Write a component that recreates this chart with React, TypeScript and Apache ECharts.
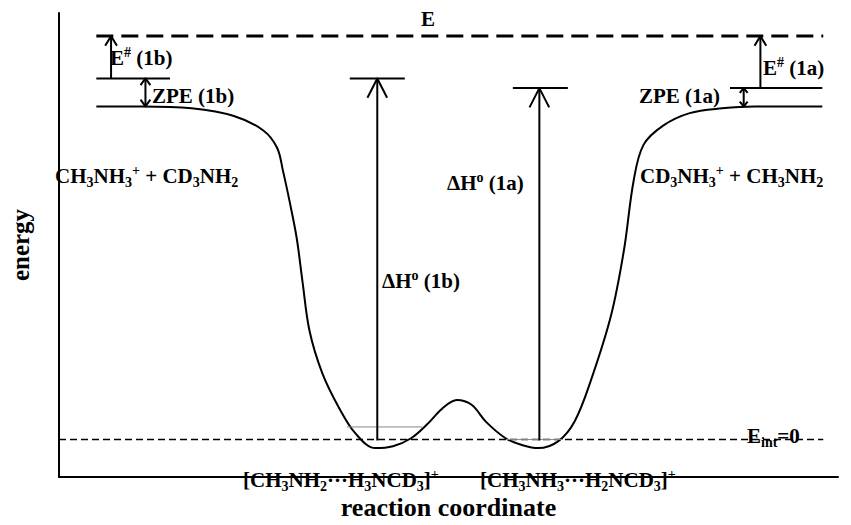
import React, { useEffect, useRef } from 'react';
import * as echarts from 'echarts';

const FONT = 'Liberation Serif';

// Potential-energy curve: [reaction coordinate, energy], energy measured from E_int = 0
const pesCurve: [number, number][] = [
  [38, 347], [85, 347], [135, 345], [178, 337], [208, 322], [222, 304], [228, 280],
  [235, 247], [242, 210], [248, 164], [255, 114], [268, 70], [285, 34], [302, 7],
  [322, -8], [340, -6], [358, 2], [375, 17], [390, 33], [405, 42], [420, 37],
  [435, 19], [455, 2], [472, -5], [488, -8], [508, -1], [525, 20], [542, 64],
  [562, 130], [575, 197], [585, 270], [595, 307], [615, 327], [642, 340],
  [675, 345], [708, 347], [777, 347],
];

// energy levels
const totalEnergyLine: [number, number][] = [[38, 420], [778, 420]];
const eintLine: [number, number][] = [[0, 1], [778, 1]];
const zpe1bTop: [number, number][] = [[38, 376], [113, 376]];
const zpe1aTop: [number, number][] = [[683, 366], [777, 366]];
const dH1bCap: [number, number][] = [[296, 376], [352, 376]];
const dH1aCap: [number, number][] = [[462, 366], [518, 366]];
const well1bLevel: [number, number][] = [[293, 14], [370, 14]];
const well1aLevel: [number, number][] = [[455, 1], [513, 1]];

// arrows: x, from, to, arrowhead half width, arrowhead length, double-headed
const arrowX = [324, 489, 53, 714, 88, 697];
const arrowFrom = [0, 0, 376, 366, 347, 347];
const arrowTo = [376, 366, 420, 420, 376, 366];
const arrowHalfW = [10, 10, 6, 6, 5, 4];
const arrowLen = [20, 20, 10, 10, 7, 5];
const arrowDouble = [false, false, false, false, true, true];

const n = { fontSize: 21, fontWeight: 'bold', fontFamily: FONT, lineHeight: 26, verticalAlign: 'middle', fill: '#000' };
const s = { fontSize: 14, fontWeight: 'bold', fontFamily: FONT, lineHeight: 14, verticalAlign: 'bottom', fill: '#000' };
const p = { fontSize: 14, fontWeight: 'bold', fontFamily: FONT, lineHeight: 14, verticalAlign: 'top', fill: '#000' };
const rich = { n, s, p };

function label(text: string, x: number, y: number, align = 'left') {
  return {
    type: 'text',
    x,
    y,
    silent: true,
    style: {
      text,
      rich,
      align,
      verticalAlign: 'middle',
      font: 'bold 21px ' + FONT,
      fill: '#000',
    },
  };
}

function seg(data: [number, number][], width: number, color = '#000', type: any = 'solid', smooth: any = false) {
  return {
    type: 'line',
    data,
    smooth,
    symbol: 'none',
    showSymbol: false,
    silent: true,
    clip: false,
    lineStyle: { color, width, type, cap: 'butt', join: 'round' },
    z: 3,
  };
}

export default function App() {
  const ref = useRef<HTMLDivElement>(null);
  useEffect(() => {
    if (!ref.current) return;
    document.body.style.margin = '0';
    const chart = echarts.init(ref.current, undefined, { renderer: 'svg' });

    const series: any[] = [
      seg(pesCurve, 2, '#000', 'solid', 0.35),
      seg(totalEnergyLine, 3, '#000', [17, 8]),
      seg(eintLine, 1.6, '#000', [7, 4]),
      seg(zpe1bTop, 2),
      seg(zpe1aTop, 2),
      seg(dH1bCap, 2),
      seg(dH1aCap, 2),
      seg(well1bLevel, 1, '#888'),
      seg(well1aLevel, 1, '#888'),
    ];
    arrowX.forEach((x, i) => {
      const a = arrowFrom[i];
      const b = arrowTo[i];
      const hw = arrowHalfW[i];
      const len = arrowLen[i];
      series.push(seg([[x, a], [x, b]], 2));
      series.push(seg([[x - hw, b - len], [x, b], [x + hw, b - len]], 2));
      if (arrowDouble[i]) {
        series.push(seg([[x - hw, a + len], [x, a], [x + hw, a + len]], 2));
      }
    });

    chart.setOption({
      animation: false,
      textStyle: { fontFamily: FONT },
      grid: { left: 45, right: 13, top: 13, bottom: 30 },
      xAxis: {
        type: 'value',
        min: 0,
        max: 793,
        name: 'reaction coordinate',
        nameLocation: 'middle',
        nameGap: 17,
        nameTextStyle: { fontSize: 26, fontWeight: 'bold', fontFamily: FONT, color: '#000' },
        axisLine: { show: true, onZero: false, lineStyle: { color: '#000', width: 2 } },
        axisTick: { show: false },
        axisLabel: { show: false },
        splitLine: { show: false },
      },
      yAxis: {
        type: 'value',
        min: -38,
        max: 444,
        name: 'energy',
        nameLocation: 'middle',
        nameGap: 26,
        nameRotate: 90,
        nameTextStyle: { fontSize: 25, fontWeight: 'bold', fontFamily: FONT, color: '#000' },
        axisLine: { show: true, onZero: false, lineStyle: { color: '#000', width: 2 } },
        axisTick: { show: false },
        axisLabel: { show: false },
        splitLine: { show: false },
      },
      series,
      graphic: [
        label('{n|E}', 428, 19, 'center'),
        label('{n|E}{p|#}{n| (1b)}', 110, 58),
        label('{n|ZPE (1b)}', 152, 96),
        label('{n|ZPE (1a)}', 720, 96, 'right'),
        label('{n|E}{p|#}{n| (1a)}', 763, 68),
        label('{n|CH}{s|3}{n|NH}{s|3}{p|+}{n| + CD}{s|3}{n|NH}{s|2}', 55, 176),
        label('{n|CD}{s|3}{n|NH}{s|3}{p|+}{n| + CH}{s|3}{n|NH}{s|2}', 640, 176),
        label('{n|ΔH}{p|o}{n| (1a)}', 447, 183),
        label('{n|ΔH}{p|o}{n| (1b)}', 382, 281),
        label('{n|[CH}{s|3}{n|NH}{s|2}{n|···H}{s|3}{n|NCD}{s|3}{n|]}{p|+}', 243, 480),
        label('{n|[CH}{s|3}{n|NH}{s|3}{n|···H}{s|2}{n|NCD}{s|3}{n|]}{p|+}', 480, 480),
        label('{n|E}{s|int}{n|=0}', 747, 436),
      ],
    });
    return () => chart.dispose();
  }, []);
  return <div ref={ref} style={{ width: 851, height: 525 }} />;
}
